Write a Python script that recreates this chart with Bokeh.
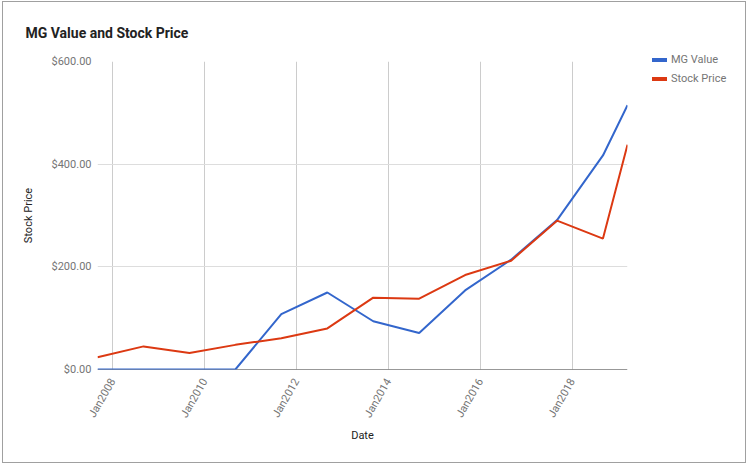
import math
import pandas as pd
from bokeh.plotting import figure
from bokeh.layouts import row
from bokeh.models import (Range1d, FixedTicker, NumeralTickFormatter, DatetimeTickFormatter,
                          Span, ColumnDataSource, Div)
from bokeh.embed import file_html
from bokeh.resources import INLINE

# ---- data ----
dates = ["2007-09-01", "2008-09-01", "2009-09-01", "2010-09-01", "2011-09-01",
         "2012-09-01", "2013-09-01", "2014-09-01", "2015-09-01", "2016-09-01",
         "2017-09-01", "2018-09-01", "2019-03-15"]
mg_value = [0, 0, 0, 0, 108, 150, 94, 71, 154, 214, 291, 417, 515]
stock_price = [24, 45, 32, 48, 61, 80, 140, 138, 184, 212, 290, 255, 438]
series_names = ["MG Value", "Stock Price"]

y_ticks = [0, 200, 400, 600]
x_tick_dates = ["2008-01-01", "2010-01-01", "2012-01-01", "2014-01-01",
                "2016-01-01", "2018-01-01"]
x_tick_labels = ["Jan2008", "Jan2010", "Jan2012", "Jan2014", "Jan2016", "Jan2018"]


def to_ms(d):
    return pd.Timestamp(d).value // 10**6


xs = [to_ms(d) for d in dates]
tick_ms = [to_ms(d) for d in x_tick_dates]

source = ColumnDataSource(data=dict(x=xs, mg=mg_value, sp=stock_price))

FONT = "Roboto"
BLUE = "#3366cc"
RED = "#dc3912"
series_colors = [BLUE, RED]

# ---------------- main chart ----------------
p = figure(width=629, height=460, x_axis_type="datetime",
           x_range=Range1d(xs[0], xs[-1]), y_range=Range1d(0, 600),
           output_backend="svg", toolbar_location=None,
           title="MG Value and Stock Price",
           min_border_left=94, min_border_right=5,
           min_border_top=58, min_border_bottom=93)

p.outline_line_color = None
p.background_fill_color = "white"
p.border_fill_color = "white"

# title
p.title.text_font = FONT
p.title.text_font_size = "14px"
p.title.text_font_style = "bold"
p.title.text_color = "#222222"
p.title.offset = -72
p.title.standoff = 41

# grids
p.xgrid.grid_line_color = "#cccccc"
p.ygrid.grid_line_color = "#dddddd"
p.xgrid.ticker = FixedTicker(ticks=tick_ms)
p.ygrid.ticker = FixedTicker(ticks=y_ticks)

# baseline
p.add_layout(Span(location=0, dimension="width", line_color="#333333",
                  line_width=1, level="underlay"))

# x axis
xa = p.xaxis[0]
xa.ticker = FixedTicker(ticks=tick_ms)
xa.formatter = DatetimeTickFormatter(years="%b%Y", months="%b%Y", days="%b%Y",
                                     hours="%b%Y", minutes="%b%Y", seconds="%b%Y",
                                     milliseconds="%b%Y", microseconds="%b%Y")
xa.major_label_overrides = {t: lab for t, lab in zip(tick_ms, x_tick_labels)}
xa.major_label_orientation = math.pi / 3
xa.major_tick_out = 0
xa.major_tick_in = 0
xa.minor_tick_out = 0
xa.minor_tick_in = 0
xa.major_label_standoff = 10
xa.major_label_text_font = FONT
xa.major_label_text_font_size = "11px"
xa.major_label_text_color = "#757575"
xa.axis_line_color = None
xa.major_tick_line_color = None
xa.minor_tick_line_color = None
xa.axis_label = "Date"
xa.axis_label_text_font = FONT
xa.axis_label_text_font_size = "11px"
xa.axis_label_text_font_style = "normal"
xa.axis_label_text_color = "#222222"
xa.axis_label_standoff = 3

# y axis
ya = p.yaxis[0]
ya.ticker = FixedTicker(ticks=y_ticks)
ya.formatter = NumeralTickFormatter(format="$0.00")
ya.major_tick_out = 0
ya.major_tick_in = 0
ya.minor_tick_out = 0
ya.minor_tick_in = 0
ya.major_label_standoff = 6
ya.major_label_text_font = FONT
ya.major_label_text_font_size = "11px"
ya.major_label_text_color = "#757575"
ya.axis_line_color = None
ya.major_tick_line_color = None
ya.minor_tick_line_color = None
ya.axis_label = "Stock Price"
ya.axis_label_text_font = FONT
ya.axis_label_text_font_size = "11px"
ya.axis_label_text_font_style = "normal"
ya.axis_label_text_color = "#222222"
ya.axis_label_standoff = 14

# lines
p.line("x", "mg", source=source, line_color=BLUE, line_width=2)
p.line("x", "sp", source=source, line_color=RED, line_width=2)

# ---------------- legend (HTML text, outside the plot frame) ----------------
items_html = ""
for i, (name, col) in enumerate(zip(series_names, series_colors)):
    cy = 58 + 19 * i
    items_html += (
        f'<div style="position:absolute;left:20px;top:{cy - 2}px;width:15px;'
        f'height:4px;background:{col};"></div>'
        f'<div style="position:absolute;left:39px;top:{cy - 7}px;height:14px;'
        f'line-height:14px;font-family:Roboto;font-size:11px;color:#757575;'
        f'white-space:nowrap;">{name}</div>'
    )
legend_div = Div(text=f'<div style="position:relative;width:115px;height:460px;">'
                      f'{items_html}</div>',
                 width=115, height=460,
                 styles={"margin": "0", "padding": "0"})

layout = row(p, legend_div)
layout.styles = {"margin-left": "2px", "margin-top": "1px",
                 "border": "1px solid #a0a0a0", "width": "744px",
                 "background-color": "white"}

open("out.html", "w").write(file_html(layout, INLINE))
